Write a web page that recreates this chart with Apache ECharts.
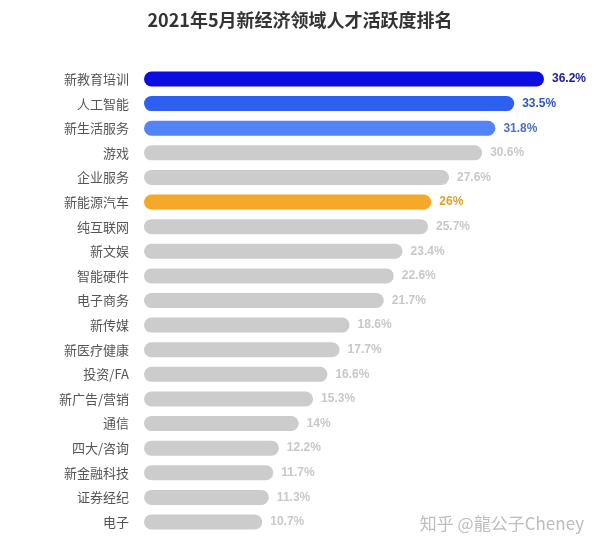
<!DOCTYPE html>
<html><head><meta charset="utf-8">
<script src="https://cdn.jsdelivr.net/npm/echarts@6/dist/echarts.min.js"></script>
<style>html,body{margin:0;padding:0;background:#fff}#c{width:600px;height:552px}</style>
</head><body><div id="c"></div>
<script>
const categories = ['新教育培训','人工智能','新生活服务','游戏','企业服务','新能源汽车','纯互联网','新文娱','智能硬件','电子商务','新传媒','新医疗健康','投资/FA','新广告/营销','通信','四大/咨询','新金融科技','证券经纪','电子'];
const values = [36.2,33.5,31.8,30.6,27.6,26,25.7,23.4,22.6,21.7,18.6,17.7,16.6,15.3,14,12.2,11.7,11.3,10.7];
const barColors = ['#0a0ee0','#2d5ff2','#5283f7','#cccccc','#cccccc','#f5a82a','#cccccc','#cccccc','#cccccc','#cccccc','#cccccc','#cccccc','#cccccc','#cccccc','#cccccc','#cccccc','#cccccc','#cccccc','#cccccc'];
const labelColors = ['#1a1a9e','#2f55c8','#4a6fd0','#c8c8c8','#c8c8c8','#e0a12a','#c8c8c8','#c8c8c8','#c8c8c8','#c8c8c8','#c8c8c8','#c8c8c8','#c8c8c8','#c8c8c8','#c8c8c8','#c8c8c8','#c8c8c8','#c8c8c8','#c8c8c8'];
const FONT = '"Noto Sans CJK SC", "Noto Sans", sans-serif';
const chart = echarts.init(document.getElementById('c'));
chart.setOption({
  backgroundColor:'#fff',
  title:{text:'2021年5月新经济领域人才活跃度排名',left:'center',top:6,textStyle:{fontSize:18,fontWeight:'bold',color:'#333',fontFamily:FONT}},
  grid:{left:144,right:14,top:66.7,bottom:17.7,containLabel:false},
  xAxis:{type:'value',min:0,max:40,show:false},
  yAxis:{type:'category',data:categories,inverse:true,axisLine:{show:false},axisTick:{show:false},
    axisLabel:{color:'#555',fontSize:13,margin:15,fontFamily:FONT}},
  series:[{type:'bar',barWidth:15,
    data:values.map((v,i)=>({value:v,itemStyle:{color:barColors[i],borderRadius:7.5},label:{color:labelColors[i]}})),
    label:{show:true,position:'right',distance:8,fontSize:12,fontWeight:'bold',fontFamily:'Arial, "Liberation Sans", sans-serif',formatter:p=>p.value+'%'}
  }],
  graphic:[{type:'text',right:16,top:515,style:{text:'知乎 @龍公子Cheney',fill:'#bdbdbd',fontSize:17,fontFamily:FONT}}],
  animation:false
});
</script></body></html>
